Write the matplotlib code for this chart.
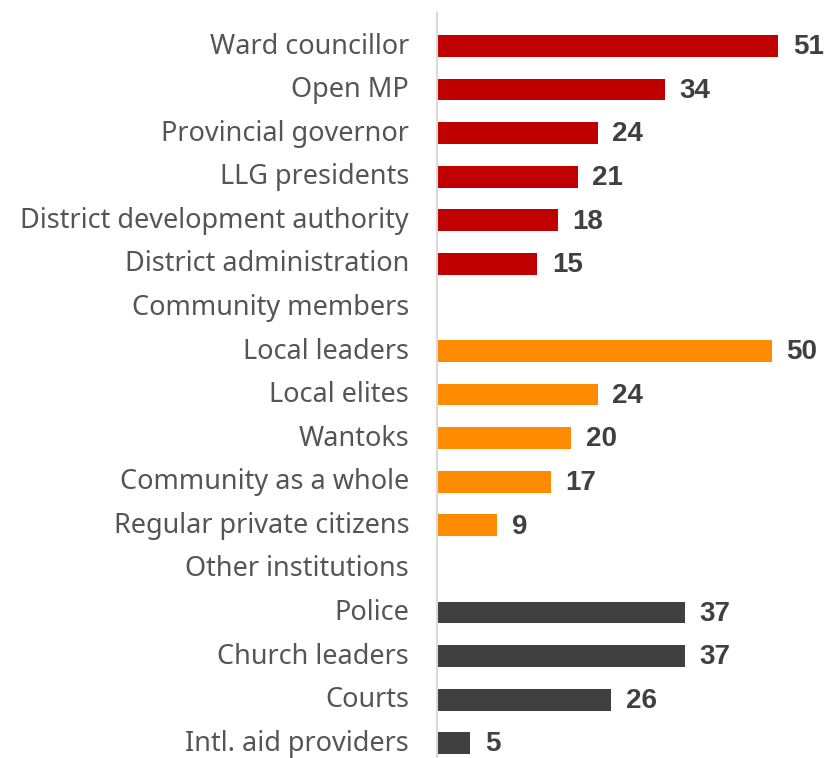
import matplotlib.pyplot as plt
from matplotlib.transforms import ScaledTranslation

labels = ['Ward councillor', 'Open MP', 'Provincial governor', 'LLG presidents',
          'District development authority', 'District administration',
          'Community members', 'Local leaders', 'Local elites', 'Wantoks',
          'Community as a whole', 'Regular private citizens',
          'Other institutions', 'Police', 'Church leaders', 'Courts',
          'Intl. aid providers']
values = [51, 34, 24, 21, 18, 15, None, 50, 24, 20, 17, 9, None, 37, 37, 26, 5]
groups = ['gov'] * 6 + [None] + ['comm'] * 5 + [None] + ['other'] * 4

colors = {'gov': '#C00000', 'comm': '#FF8C00', 'other': '#404040'}

W, H = 828, 758
fig = plt.figure(figsize=(W / 100, H / 100), dpi=100)
ax = fig.add_axes([437 / W, 0, 1 - 437 / W, 1 - 13 / H])

for i, (v, g) in enumerate(zip(values, groups)):
    if v is None:
        continue
    ax.barh(i, v, height=0.5, color=colors[g])
    ax.text(v + 2.2, i + 0.03, str(v), va='center', ha='left', fontsize=20,
            fontweight='bold', family='Liberation Sans', color='#404040')

ax.set_xlim(0, 58.4)
ax.set_ylim(16.34, -0.758)
ax.set_yticks(range(len(labels)))
ax.set_yticklabels(labels, fontsize=19.5, family='Noto Sans', color='#555555')
ax.tick_params(axis='y', length=0, pad=20)
# nudge the category labels up a touch so descenders stay inside the figure
for lbl in ax.get_yticklabels():
    lbl.set_transform(lbl.get_transform() + ScaledTranslation(0, 3 / 100, fig.dpi_scale_trans))
ax.set_xticks([])
for s in ['top', 'right', 'bottom']:
    ax.spines[s].set_visible(False)
ax.spines['left'].set_color('#d9d9d9')
ax.spines['left'].set_linewidth(1.5)

fig.savefig('out.png', dpi=100)
